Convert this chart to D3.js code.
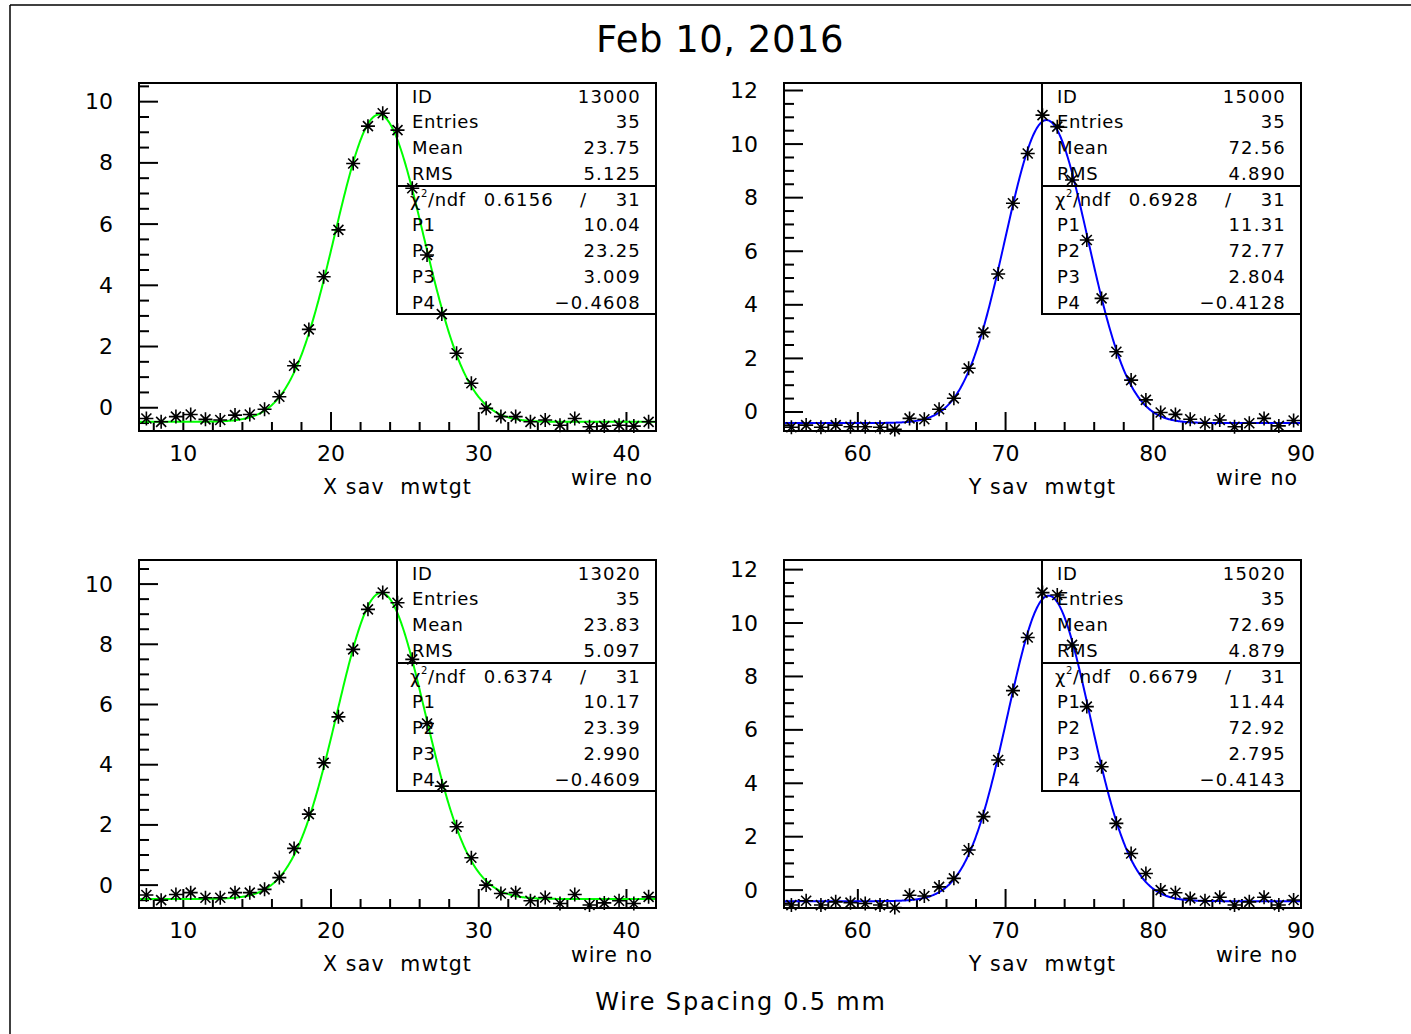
<!DOCTYPE html>
<html><head><meta charset="utf-8">
<script src="https://cdn.jsdelivr.net/npm/d3@7"></script>
<style>
body{margin:0;background:#fff}
svg{display:block}
text{font-family:"DejaVu Sans","Liberation Sans",sans-serif;fill:#000}
</style>
</head><body>
<svg id="c" width="1411" height="1034"></svg>
<script>
// ---------------- DATA ----------------
const titleText = "Feb 10, 2016";
const footText = "Wire Spacing 0.5 mm";

const binsX = [7.5,8.5,9.5,10.5,11.5,12.5,13.5,14.5,15.5,16.5,17.5,18.5,19.5,20.5,21.5,22.5,23.5,24.5,25.5,26.5,27.5,28.5,29.5,30.5,31.5,32.5,33.5,34.5,35.5,36.5,37.5,38.5,39.5,40.5,41.5];
const binsY = [55.5,56.5,57.5,58.5,59.5,60.5,61.5,62.5,63.5,64.5,65.5,66.5,67.5,68.5,69.5,70.5,71.5,72.5,73.5,74.5,75.5,76.5,77.5,78.5,79.5,80.5,81.5,82.5,83.5,84.5,85.5,86.5,87.5,88.5,89.5];

const h13000 = [-0.35,-0.46,-0.29,-0.22,-0.38,-0.40,-0.24,-0.22,-0.05,0.36,1.37,2.56,4.28,5.81,7.98,9.20,9.62,9.07,7.17,4.99,3.06,1.78,0.80,-0.02,-0.29,-0.29,-0.46,-0.40,-0.57,-0.35,-0.62,-0.60,-0.57,-0.60,-0.46];
const h15000 = [-0.57,-0.49,-0.57,-0.49,-0.55,-0.55,-0.57,-0.65,-0.24,-0.27,0.10,0.51,1.63,2.97,5.15,7.79,9.65,11.08,10.65,8.66,6.42,4.24,2.25,1.19,0.45,-0.02,-0.09,-0.27,-0.42,-0.30,-0.55,-0.42,-0.24,-0.52,-0.32];
const h13020 = [-0.33,-0.50,-0.31,-0.25,-0.42,-0.42,-0.25,-0.25,-0.14,0.25,1.22,2.36,4.06,5.59,7.83,9.16,9.72,9.38,7.50,5.37,3.29,1.94,0.91,0.00,-0.28,-0.25,-0.52,-0.41,-0.61,-0.31,-0.66,-0.59,-0.52,-0.61,-0.39];
const h15020 = [-0.56,-0.40,-0.56,-0.44,-0.47,-0.50,-0.56,-0.65,-0.19,-0.22,0.12,0.44,1.50,2.75,4.87,7.47,9.46,11.14,11.05,9.18,6.87,4.62,2.50,1.37,0.62,0.00,-0.10,-0.31,-0.40,-0.27,-0.56,-0.44,-0.27,-0.56,-0.37];

// fit parameters P1..P4 (gaussian + constant)
const fit13000 = [10.04, 23.25, 3.009, -0.4608];
const fit15000 = [11.31, 72.77, 2.804, -0.4128];
const fit13020 = [10.17, 23.39, 2.990, -0.4609];
const fit15020 = [11.44, 72.92, 2.795, -0.4143];

const statIds = ["13000","15000","13020","15020"];
const statEntries = ["35","35","35","35"];
const statMean = ["23.75","72.56","23.83","72.69"];
const statRms = ["5.125","4.890","5.097","4.879"];
const statChi = ["0.6156","0.6928","0.6374","0.6679"];
const statNdf = ["31","31","31","31"];
const paramText = [
  ["10.04","23.25","3.009","\u22120.4608"],
  ["11.31","72.77","2.804","\u22120.4128"],
  ["10.17","23.39","2.990","\u22120.4609"],
  ["11.44","72.92","2.795","\u22120.4143"]
];
const xTitles = ["X sav  mwtgt","Y sav  mwtgt","X sav  mwtgt","Y sav  mwtgt"];
const unitTitle = "wire no";
const xDomains = [[7,42],[55,90],[7,42],[55,90]];
const yDomains = [[-0.76,10.61],[-0.71,12.28],[-0.76,10.80],[-0.67,12.36]];
const xMajorTicks = [[10,20,30,40],[60,70,80,90],[10,20,30,40],[60,70,80,90]];
const yMajorTicks = [[0,2,4,6,8,10],[0,2,4,6,8,10,12],[0,2,4,6,8,10],[0,2,4,6,8,10,12]];
const curveColors = ["#00ff00","#0000ff","#00ff00","#0000ff"];

// ---------------- LAYOUT ----------------
const svg = d3.select("#c");
const frames = [
  {x0:139, x1:656, y0:83, y1:431},
  {x0:784, x1:1301, y0:83, y1:431},
  {x0:139, x1:656, y0:560, y1:908},
  {x0:784, x1:1301, y0:560, y1:908}
];
const hists = [h13000,h15000,h13020,h15020];
const bins = [binsX,binsY,binsX,binsY];
const fits = [fit13000,fit15000,fit13020,fit15020];

// page border
svg.append("line").attr("x1",10).attr("x2",1411).attr("y1",5).attr("y2",5).attr("stroke","#000").attr("stroke-width",1.5);
svg.append("line").attr("x1",10).attr("x2",10).attr("y1",5).attr("y2",1034).attr("stroke","#000").attr("stroke-width",1.5);

svg.append("text").attr("x",720).attr("y",52).attr("text-anchor","middle")
  .style("font-size","37px").style("letter-spacing","0.5px").text(titleText);
svg.append("text").attr("x",741).attr("y",1010).attr("text-anchor","middle")
  .style("font-size","24px").style("letter-spacing","1.8px").text(footText);

const star = "M-7,0H7M0,-7V7M-5,-5L5,5M-5,5L5,-5";

frames.forEach((f,i)=>{
  const g = svg.append("g");
  const x = d3.scaleLinear().domain(xDomains[i]).range([f.x0,f.x1]);
  const y = d3.scaleLinear().domain(yDomains[i]).range([f.y1,f.y0]);
  const clipId = "clip"+i;
  svg.append("clipPath").attr("id",clipId).append("rect")
    .attr("x",f.x0).attr("y",f.y0).attr("width",f.x1-f.x0).attr("height",f.y1-f.y0);

  // y ticks (inside, left)
  const [ya,yb] = yDomains[i];
  const yMinor = [];
  for (let v=Math.ceil(ya/0.5)*0.5; v<=yb+1e-9; v+=0.5) yMinor.push(+v.toFixed(2));
  yMinor.forEach(v=>{
    const major = yMajorTicks[i].includes(v);
    g.append("line").attr("x1",f.x0).attr("x2",f.x0+(major?19:10))
      .attr("y1",y(v)).attr("y2",y(v)).attr("stroke","#000").attr("stroke-width",2);
  });
  yMajorTicks[i].forEach(v=>{
    g.append("text").attr("x",f.x0-26).attr("y",y(v)).attr("text-anchor","end")
      .attr("dominant-baseline","central").style("font-size","22px").text(v);
  });
  // x ticks (inside, bottom)
  const [xa,xb] = xDomains[i];
  const xMinor = [];
  for (let v=Math.ceil(xa/2)*2; v<=xb; v+=2) xMinor.push(v);
  xMinor.forEach(v=>{
    const major = xMajorTicks[i].includes(v);
    g.append("line").attr("x1",x(v)).attr("x2",x(v))
      .attr("y1",f.y1).attr("y2",f.y1-(major?19:9)).attr("stroke","#000").attr("stroke-width",2);
  });
  xMajorTicks[i].forEach(v=>{
    g.append("text").attr("x",x(v)).attr("y",f.y1+30).attr("text-anchor","middle")
      .style("font-size","22px").text(v);
  });
  g.append("text").attr("x",(f.x0+f.x1)/2).attr("y",f.y1+63).attr("text-anchor","middle")
    .style("font-size","20.5px").style("letter-spacing","1.2px").style("white-space","pre").text(xTitles[i]);
  g.append("text").attr("x",f.x1-3).attr("y",f.y1+54).attr("text-anchor","end")
    .style("font-size","20.5px").style("letter-spacing","1px").text(unitTitle);

  // fit curve
  const p = fits[i];
  const xs = d3.range(xa, xb+0.001, 0.05);
  const line = d3.line().x(d=>x(d)).y(d=>y(p[0]*Math.exp(-0.5*Math.pow((d-p[1])/p[2],2))+p[3]));
  g.append("path").attr("d",line(xs)).attr("fill","none").attr("stroke",curveColors[i])
    .attr("stroke-width",2).attr("clip-path","url(#"+clipId+")");

  // stats box (transparent)
  const bx0 = f.x0+258, bx1 = f.x1, by0 = f.y0, by1 = f.y0+231, bdiv = f.y0+103;
  g.append("rect").attr("x",bx0).attr("y",by0).attr("width",bx1-bx0).attr("height",by1-by0)
    .attr("fill","none").attr("stroke","#000").attr("stroke-width",2);
  g.append("line").attr("x1",bx0).attr("x2",bx1).attr("y1",bdiv).attr("y2",bdiv).attr("stroke","#000").attr("stroke-width",2);
  const rowsY = [19.5,45.25,71,96.75,122.5,148.25,174,199.75,225.5];
  const labels = ["ID","Entries","Mean","RMS"];
  const vals = [statIds[i],statEntries[i],statMean[i],statRms[i]];
  labels.forEach((l,k)=>{
    g.append("text").attr("x",bx0+15).attr("y",by0+rowsY[k]).style("font-size","18px").style("letter-spacing","0.6px").text(l);
    g.append("text").attr("x",bx1-15).attr("y",by0+rowsY[k]).attr("text-anchor","end").style("font-size","18px").style("letter-spacing","1.2px").text(vals[k]);
  });
  const chiT = g.append("text").attr("x",bx0+13).attr("y",by0+rowsY[4]).style("font-size","18px").style("letter-spacing","0.6px");
  chiT.append("tspan").text("\u03c7");
  chiT.append("tspan").attr("dy",-9).style("font-size","10px").text("2");
  chiT.append("tspan").attr("dy",9).text("/ndf");
  g.append("text").attr("x",bx0+157).attr("y",by0+rowsY[4]).attr("text-anchor","end").style("font-size","18px").style("letter-spacing","1.2px").text(statChi[i]);
  g.append("text").attr("x",bx0+186).attr("y",by0+rowsY[4]).attr("text-anchor","middle").style("font-size","18px").text("/");
  g.append("text").attr("x",bx1-15).attr("y",by0+rowsY[4]).attr("text-anchor","end").style("font-size","18px").style("letter-spacing","1.2px").text(statNdf[i]);
  ["P1","P2","P3","P4"].forEach((l,k)=>{
    g.append("text").attr("x",bx0+15).attr("y",by0+rowsY[5+k]).style("font-size","18px").style("letter-spacing","0.6px").text(l);
    g.append("text").attr("x",bx1-15).attr("y",by0+rowsY[5+k]).attr("text-anchor","end").style("font-size","18px").style("letter-spacing","1.2px").text(paramText[i][k]);
  });

  // frame
  g.append("rect").attr("x",f.x0).attr("y",f.y0).attr("width",f.x1-f.x0).attr("height",f.y1-f.y0)
    .attr("fill","none").attr("stroke","#000").attr("stroke-width",2);

  // data points (asterisks)
  g.selectAll("path.pt").data(hists[i]).enter().append("path").attr("class","pt")
    .attr("d",star).attr("transform",(d,k)=>`translate(${x(bins[i][k])},${y(d)})`)
    .attr("stroke","#000").attr("stroke-width",1.6).attr("fill","none");
});
</script>
</body></html>
